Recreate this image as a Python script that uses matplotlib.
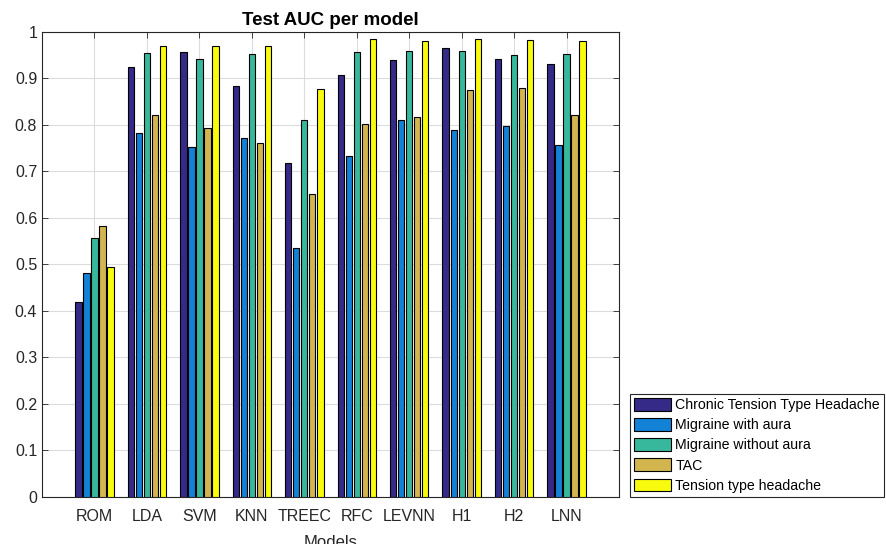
import numpy as np
import matplotlib
matplotlib.use("Agg")
import matplotlib.pyplot as plt
from matplotlib.ticker import FormatStrFormatter

plt.rcParams['font.family'] = ['Liberation Sans', 'DejaVu Sans']

# datos
models = ["ROM", "LDA", "SVM", "KNN", "TREEC", "RFC", "LEVNN", "H1", "H2", "LNN"]
classes = ["Chronic Tension Type Headache", "Migraine with aura",
           "Migraine without aura", "TAC", "Tension type headache"]

ctth = [0.418, 0.924, 0.956, 0.883, 0.717, 0.907, 0.940, 0.964, 0.941, 0.931]
mwa = [0.482, 0.783, 0.753, 0.772, 0.534, 0.733, 0.810, 0.788, 0.797, 0.756]
mwoa = [0.556, 0.954, 0.942, 0.951, 0.811, 0.956, 0.959, 0.958, 0.949, 0.953]
tac = [0.582, 0.821, 0.792, 0.761, 0.652, 0.802, 0.817, 0.874, 0.880, 0.821]
tth = [0.495, 0.969, 0.970, 0.969, 0.877, 0.984, 0.979, 0.984, 0.982, 0.979]

series = [ctth, mwa, mwoa, tac, tth]
colors = ["#352a87", "#1281d6", "#37b89d", "#d3b54f", "#f9fb0e"]

fig = plt.figure(figsize=(8.87, 5.44), dpi=100)
ax = fig.add_axes([0.0474, 0.087, 0.6505, 0.8547])

x = np.arange(1, len(models) + 1)
slot = 0.153
width = 0.12
for k, (vals, col, lab) in enumerate(zip(series, colors, classes)):
    off = (k - 2) * slot
    ax.bar(x + off, vals, width, color=col, edgecolor='black', linewidth=0.8,
           label=lab, zorder=3)

ax.set_xlim(0, 11)
ax.set_ylim(0, 1)
ax.set_xticks(x)
ax.set_xticklabels(models)
ax.set_yticks(np.arange(0, 1.01, 0.1))
ax.yaxis.set_major_formatter(FormatStrFormatter('%g'))
ax.grid(True, color='#dcdcdc', linewidth=0.8, zorder=0)
ax.tick_params(direction='in', top=True, right=True, labelsize=11.5,
               colors='#262626', length=4, width=0.6)
ax.tick_params(axis='x', pad=9)
for s in ax.spines.values():
    s.set_color('#262626')
    s.set_linewidth(0.8)

ax.set_title("Test AUC per model", fontsize=13.5, fontweight='bold', pad=5)
ax.set_xlabel("Models", fontsize=12, color='#262626', labelpad=8)

leg = fig.legend(loc='lower left', bbox_to_anchor=(630 / 887, 47 / 544),
                 fontsize=10.2, handlelength=2.6, handleheight=1.0,
                 labelspacing=0.42, handletextpad=0.3, borderpad=0.3,
                 borderaxespad=0, fancybox=False, framealpha=1)
leg.get_frame().set_edgecolor('#262626')
leg.get_frame().set_linewidth(0.8)

fig.savefig("out.png", dpi=100)
